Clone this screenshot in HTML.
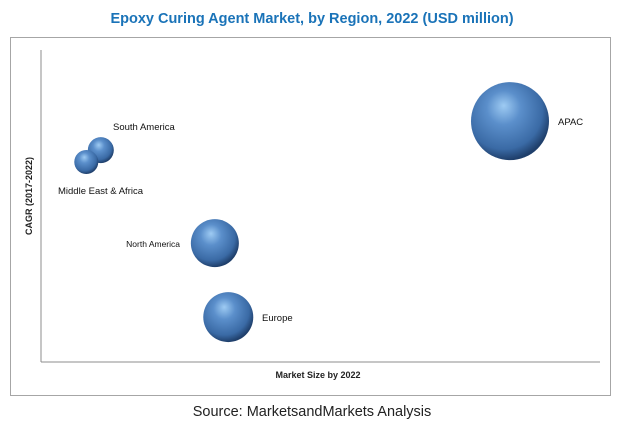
<!DOCTYPE html>
<html><head><meta charset="utf-8"><style>
body{margin:0;background:#fff;width:626px;height:431px;overflow:hidden;font-family:"Liberation Sans",sans-serif}
</style></head><body>
<svg width="626" height="431" xmlns="http://www.w3.org/2000/svg">
<defs>
<radialGradient id="ball" cx="0.42" cy="0.38" r="0.62" fx="0.42" fy="0.3">
<stop offset="0" stop-color="#9ecbf3"/>
<stop offset="0.35" stop-color="#5b8fcb"/>
<stop offset="0.8" stop-color="#3a6aa5"/>
<stop offset="1" stop-color="#1f3f6b"/>
</radialGradient>
</defs>
<text x="312" y="23" text-anchor="middle" font-size="14.5" font-weight="bold" fill="#1a73b8">Epoxy Curing Agent Market, by Region, 2022 (USD million)</text>
<rect x="10.5" y="37.5" width="600" height="358" fill="none" stroke="#a6a6a6"/>
<line x1="41" y1="50" x2="41" y2="362" stroke="#8c8c8c"/>
<line x1="41" y1="362" x2="600" y2="362" stroke="#8c8c8c"/>
<text x="318" y="378" text-anchor="middle" font-size="9" font-weight="bold" fill="#222">Market Size by 2022</text>
<text transform="translate(32,196) rotate(-90)" text-anchor="middle" font-size="9" font-weight="bold" fill="#222">CAGR (2017-2022)</text>
<g id="bubbles"></g>
<text x="312" y="416" text-anchor="middle" font-size="14.5" fill="#222">Source: MarketsandMarkets Analysis</text>
</svg>
<script>
const regions=["APAC","South America","Middle East & Africa","North America","Europe"];
const marketSize=[83.9,10.7,8.1,31.1,33.5];
const cagr=[77.2,67.9,64.1,38.1,14.4];
const bubbleSize=[39,13,12,24,25];
const labelPos=[[558,125,"start"],[113,130,"start"],[58,194,"start"],[180,247,"end"],[262,321,"start"]];
const sx=v=>41+v/100*559, sy=v=>362-v/100*312;
const g=document.getElementById('bubbles');
const ns="http://www.w3.org/2000/svg";
regions.forEach((r,i)=>{
 const c=document.createElementNS(ns,'circle');
 c.setAttribute('cx',sx(marketSize[i]));c.setAttribute('cy',sy(cagr[i]));c.setAttribute('r',bubbleSize[i]);
 c.setAttribute('fill','url(#ball)');
 
 
 g.appendChild(c);
 const t=document.createElementNS(ns,'text');
 t.setAttribute('x',labelPos[i][0]);t.setAttribute('y',labelPos[i][1]);t.setAttribute('text-anchor',labelPos[i][2]);
 t.setAttribute('font-size',i==3?'8.5':'9.5');t.setAttribute('fill','#111');t.textContent=r;
 
 
 g.appendChild(t);
});
</script>
</body></html>
